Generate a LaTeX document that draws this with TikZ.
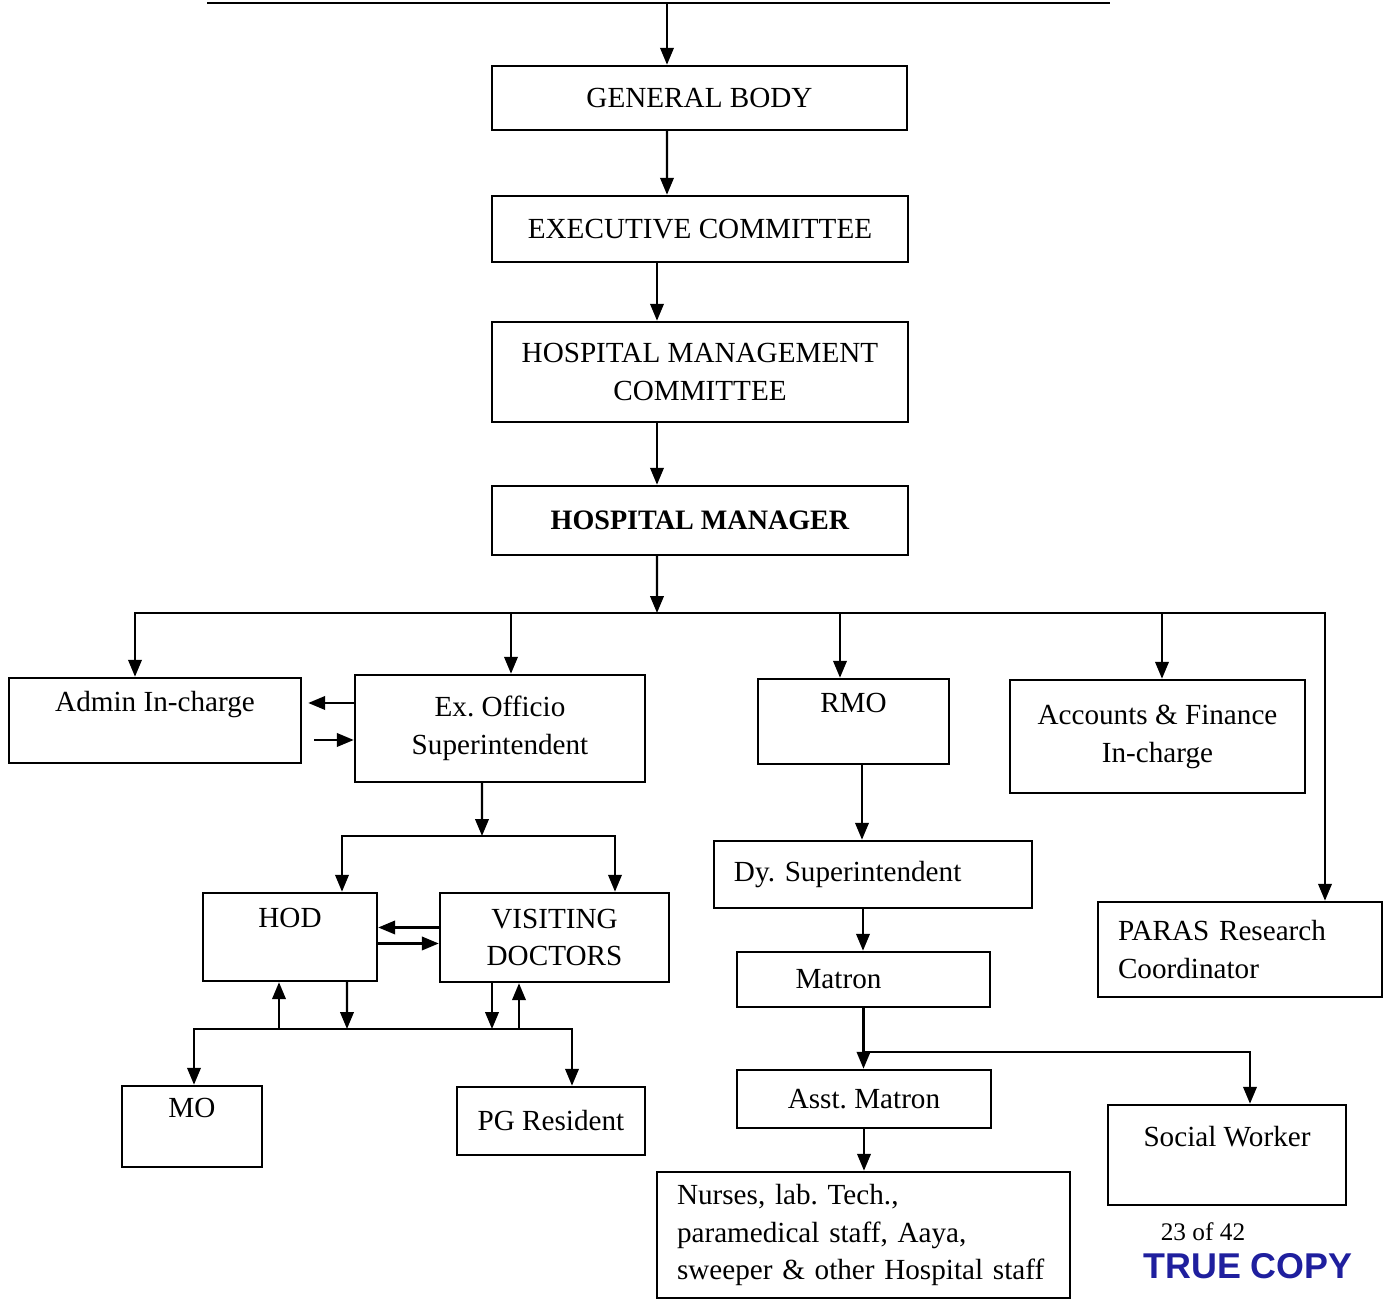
\documentclass[tikz,border=0pt]{standalone}
\usepackage{fontspec}
\setmainfont{Liberation Serif}
\newfontfamily\stampfont{Liberation Sans}
\usetikzlibrary{arrows.meta}
\definecolor{stampblue}{rgb}{0.12,0.12,0.62}
\frenchspacing
\begin{document}
\begin{tikzpicture}[font=\fontsize{8.3}{10.8}\selectfont,
box/.style={draw, line width=0.7pt, inner sep=0pt, align=center},
lbox/.style={draw, line width=0.7pt, inner xsep=2mm, inner ysep=0pt, align=left},
arr/.style={-{Triangle[length=4.8pt,width=3.8pt]}, line width=0.7pt}]
\useasboundingbox (0,0) rectangle (13.9,-13);
	\node[box, minimum width=4.15cm, minimum height=0.64cm] (gb) at (6.995,-0.98) {GENERAL BODY};
	\node[box, minimum width=4.16cm, minimum height=0.66cm] (ec) at (7.0,-2.29) {EXECUTIVE COMMITTEE};
	\node[box, minimum width=4.16cm, minimum height=1.0cm] (hmc) at (7.0,-3.72) {HOSPITAL MANAGEMENT\\COMMITTEE};
	\node[box, minimum width=4.16cm, minimum height=0.69cm, font=\fontsize{8}{10}\selectfont\bfseries] (hm) at (7.0,-5.205) {HOSPITAL MANAGER};
	\node[box, minimum width=2.92cm, minimum height=0.85cm] (admin) at (1.55,-7.205) {Admin In-charge\\\mbox{}};
	\node[box, minimum width=2.90cm, minimum height=1.07cm] (exo) at (5.0,-7.285) {Ex. Officio\\Superintendent};
	\node[box, minimum width=1.91cm, minimum height=0.85cm] (rmo) at (8.535,-7.215) {RMO\\\mbox{}};
	\node[box, minimum width=2.95cm, minimum height=1.13cm] (acc) at (11.575,-7.365) {Accounts \& Finance\\In-charge};
	\node[lbox, text width=2.44cm, minimum height=0.95cm] (paras) at (12.40,-9.495) {PARAS Research\\Coordinator};
	\node[box, minimum width=1.74cm, minimum height=0.88cm] (hod) at (2.90,-9.37) {HOD\\\mbox{}};
	\node[box, minimum width=2.29cm, minimum height=0.89cm] (vd) at (5.545,-9.375) {VISITING\\DOCTORS};
	\node[box, minimum width=1.40cm, minimum height=0.81cm] (mo) at (1.92,-11.265) {MO\\\mbox{}};
	\node[box, minimum width=1.88cm, minimum height=0.68cm] (pg) at (5.51,-11.21) {PG Resident};
	\node[lbox, text width=2.78cm, minimum height=0.67cm] (dy) at (8.73,-8.745) {Dy. Superintendent};
	\node[box, minimum width=2.53cm, minimum height=0.55cm] (matron) at (8.635,-9.795) {Matron\hspace*{5mm}};
	\node[box, minimum width=2.54cm, minimum height=0.58cm] (amatron) at (8.64,-10.99) {Asst. Matron};
	\node[lbox, text width=3.73cm, minimum height=1.26cm] (nurses) at (8.635,-12.35) {Nurses, lab. Tech.,\\paramedical staff, Aaya,\\sweeper \& other Hospital staff};
	\node[box, minimum width=2.38cm, minimum height=1.0cm] (sw) at (12.27,-11.55) {Social Worker\\\mbox{}};
	\node[font=\fontsize{7.2}{8}\selectfont] (pageno) at (12.03,-12.32) {23 of 42};
	\node[font=\fontsize{10.2}{11}\selectfont\stampfont\bfseries, text=stampblue] (stamp) at (12.48,-12.66) {TRUE COPY};
	\coordinate (top) at (6.67,-0.03);
	\coordinate (bus) at (6.57,-6.13);
	\coordinate (b2) at (4.82,-8.36);
	\coordinate (b3) at (3.47,-10.29);
	\coordinate (b4) at ([yshift=-4.4mm]matron.south);
	\draw[line width=0.8pt] (2.07,-0.03) -- (11.10,-0.03);
	\draw[arr] (top) -- (top |- gb.north);
	\draw[arr] ([xshift=-3.25mm]gb.south) -- ([xshift=-3.3mm]ec.north);
	\draw[arr] ([xshift=-4.3mm]ec.south) -- ([xshift=-4.3mm]hmc.north);
	\draw[arr] ([xshift=-4.3mm]hmc.south) -- ([xshift=-4.3mm]hm.north);
	\draw[arr] ([xshift=-4.3mm]hm.south) -- (bus);
	\draw[arr] (bus) -| ([xshift=-2mm]admin.north);
	\draw[arr] (bus) -| ([xshift=1.1mm]exo.north);
	\draw[arr] (bus) -| ([xshift=-1.35mm]rmo.north);
	\draw[arr] (bus) -| ([xshift=0.45mm]acc.north);
	\draw[arr] (bus) -| ([xshift=8.5mm]paras.north);
	\draw[arr, shorten >=0.6mm] ([yshift=2.55mm]exo.west) -- ([yshift=2.55mm]exo.west -| admin.east);
	\draw[arr, shorten <=1.2mm] ([yshift=-1.15mm]exo.west -| admin.east) -- ([yshift=-1.15mm]exo.west);
	\draw[arr] ([xshift=-1.8mm]exo.south) -- (b2);
	\draw[arr] (b2) -| ([xshift=5.2mm]hod.north);
	\draw[arr] (b2) -| ([xshift=6.05mm]vd.north);
	\draw[arr] ([yshift=1mm]vd.west) -- ([yshift=1mm]vd.west -| hod.east);
	\draw[arr] ([yshift=-0.6mm]vd.west -| hod.east) -- ([yshift=-0.6mm]vd.west);
	\draw[arr] ([xshift=5.7mm]hod.south) -- (b3);
	\draw[arr] ([xshift=-1.1mm]hod.south |- b3) -- ([xshift=-1.1mm]hod.south);
	\draw[arr] ([xshift=-6.25mm]vd.south) -- ([xshift=-6.25mm]vd.south |- b3);
	\draw[arr] ([xshift=-3.55mm]vd.south |- b3) -- ([xshift=-3.55mm]vd.south);
	\draw[arr] (b3) -| ([xshift=0.2mm]mo.north);
	\draw[arr] (b3) -| ([xshift=2.1mm]pg.north);
	\draw[arr] ([xshift=0.85mm]rmo.south) -- ([xshift=0.85mm]rmo.south |- dy.north);
	\draw[arr] ([xshift=-1mm]dy.south) -- ([xshift=-1mm]dy.south |- matron.north);
	\draw[arr] (matron.south) -- (matron.south |- amatron.north);
	\draw[arr] (b4) -| ([xshift=2.3mm]sw.north);
	\draw[arr] (amatron.south) -- (amatron.south |- nurses.north);
\end{tikzpicture}
\end{document}
